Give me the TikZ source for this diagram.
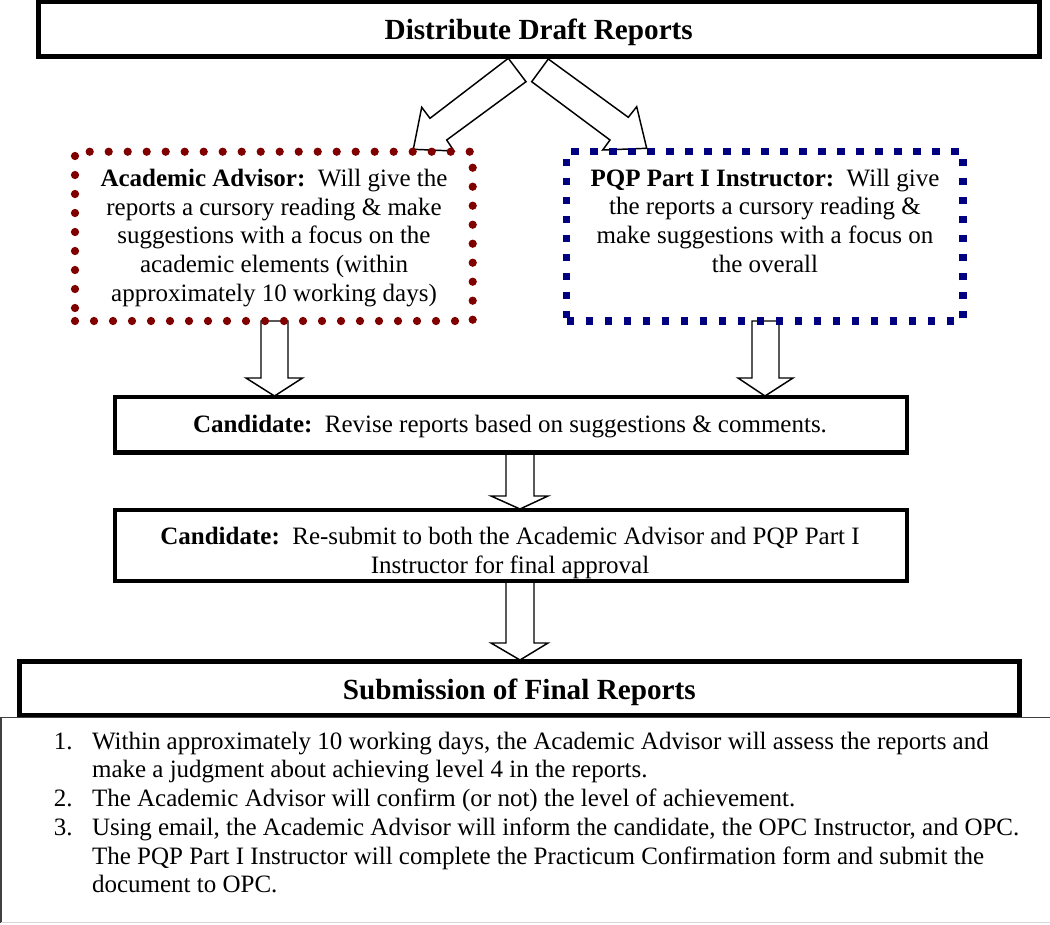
\documentclass[tikz,border=0pt]{standalone}
\usepackage{fontspec}
\setmainfont{Liberation Serif}
\usetikzlibrary{fit}
\definecolor{maroonc}{RGB}{128,0,0}
\definecolor{navyc}{RGB}{0,0,128}
\tikzset{
  body/.style={font=\fontsize{18.75}{21.56}\selectfont},
  titlef/.style={font=\fontsize{21.9}{25}\selectfont\bfseries},
  heavybox/.style={draw=black, line width=3.75pt, inner sep=0pt, fill=white},
  candbox/.style={draw=black, line width=3.4pt, inner sep=0pt, fill=white},
  dotbox/.style={draw=maroonc, line width=6.2pt, line cap=round, dash pattern=on 0pt off 14.25pt, inner sep=0pt},
  sqbox/.style={draw=navyc, line width=5.6pt, line cap=butt, dash pattern=on 5.6pt off 8.65pt, inner sep=0pt},
  blockarrow/.style={draw=black, line width=1.1pt, fill=white, line join=miter},
  txt/.style={body, align=center, inner sep=0pt},
}
\begin{document}
\begin{tikzpicture}[x=0.75pt, y=-0.75pt]
\useasboundingbox (0,0) rectangle (1050,925);

% block arrows (drawn first)
\draw[blockarrow] (508.3,58.3) -- (526,81.7) -- (446.7,140) -- (454,151) -- (413.3,149.3) -- (421.7,107.3) -- (430,118.3) -- cycle;
\draw[blockarrow] (548.3,59) -- (628.3,117.3) -- (636.7,106.7) -- (646.7,148.3) -- (602.7,150) -- (610,140) -- (531.7,81.7) -- cycle;
\draw[blockarrow] (261,321) -- (261,378) -- (246,378) -- (274.5,396) -- (302.5,378) -- (288,378) -- (288,321) -- cycle;
\draw[blockarrow] (752,321) -- (752,378) -- (738,378) -- (765,396) -- (793,378) -- (779,378) -- (779,321) -- cycle;
\draw[blockarrow] (506,454) -- (506,496) -- (491,496) -- (520,509) -- (548,496) -- (534,496) -- (534,454) -- cycle;
\draw[blockarrow] (506,582) -- (506,643) -- (491,643) -- (520,660) -- (548,643) -- (534,643) -- (534,582) -- cycle;

% top box
\node[heavybox, fit={(38.5,1.5) (1039,56)}] (top) {};
\node[titlef, inner sep=0pt] (toptxt) at ([yshift=-2.5pt]top.center) {Distribute Draft Reports};

% dotted boxes
\node[dotbox, fit={(75,151.7) (472.7,321)}] (adv) {};
\node[txt] (advtxt) at (274,238) {\textbf{Academic Advisor:}\ \ Will give the\\reports a cursory reading \& make\\suggestions with a focus on the\\academic elements (within\\approximately 10 working days)};
\node[sqbox, fit={(566.7,151.7) (963,321)}] (pqp) {};
\node[txt] (pqptxt) at (765,220.6) {\textbf{PQP Part I Instructor:}\ \ Will give\\the reports a cursory reading \&\\make suggestions with a focus on\\the overall};

% candidate boxes
\node[candbox, fit={(115,397) (907,452.5)}] (cand1) {};
\node[txt] (cand1txt) at (510,427) {\textbf{Candidate:}\ \ Revise reports based on suggestions \& comments.};
\node[candbox, fit={(115,510) (907,581)}] (cand2) {};
\node[txt] (cand2txt) at (510,553) {\textbf{Candidate:}\ \ Re-submit to both the Academic Advisor and PQP Part I\\Instructor for final approval};

% submission box
\node[heavybox, fit={(19,661.5) (1019.5,715)}] (sub) {};
\node[titlef, inner sep=0pt] (subtxt) at ([yshift=-3pt]sub.center) {Submission of Final Reports};

% list box
\coordinate (lbtr) at (1050,717.5);
\coordinate (lbtl) at (1,717.5);
\coordinate (lbbl) at (1,922.5);
\coordinate (lbbr) at (1050,922.5);
\draw[black!75, line width=0.9pt] (lbtr) -- (lbtl) -- (lbbl);
\draw[black!15, line width=0.9pt] (lbbl) -- (lbbr);
\node[body, align=left, inner sep=0pt, anchor=base west] (list) at (53.6,892.8) {%
\makebox[28.65pt][l]{1.}Within approximately 10 working days, the Academic Advisor will assess the reports and\\
\hspace*{28.65pt}make a judgment about achieving level 4 in the reports.\\
\makebox[28.65pt][l]{2.}The Academic Advisor will confirm (or not) the level of achievement.\\
\makebox[28.65pt][l]{3.}Using email, the Academic Advisor will inform the candidate, the OPC Instructor, and OPC.\\
\hspace*{28.65pt}The PQP Part I Instructor will complete the Practicum Confirmation form and submit the\\
\hspace*{28.65pt}document to OPC.};
\end{tikzpicture}
\end{document}
